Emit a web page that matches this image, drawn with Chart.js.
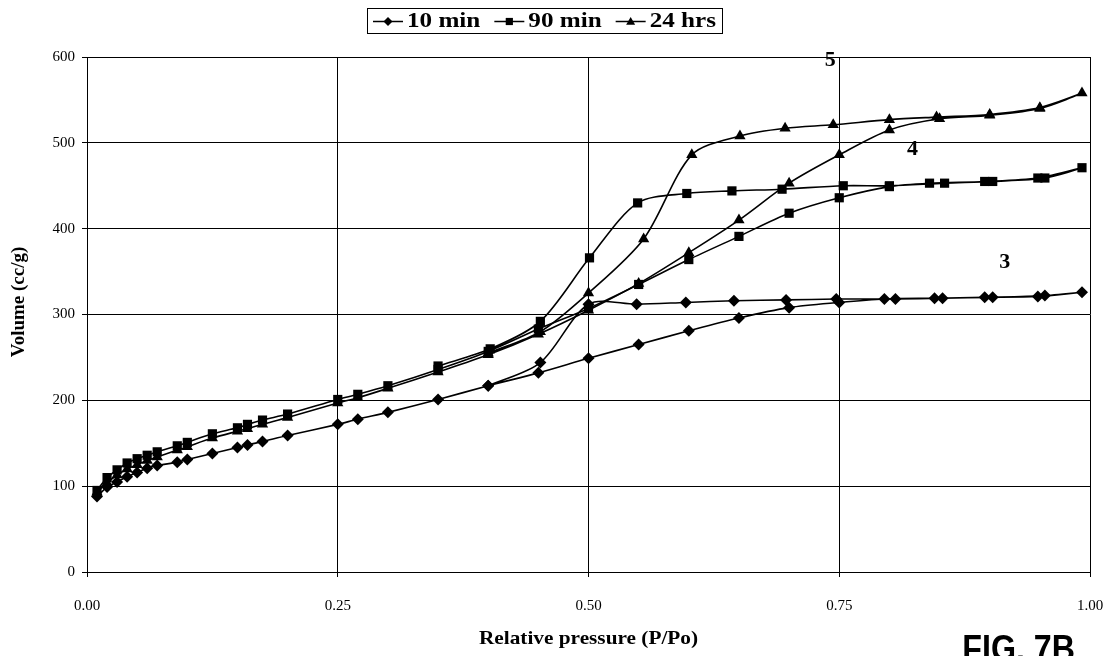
<!DOCTYPE html>
<html>
<head>
<meta charset="utf-8">
<script src="https://cdn.jsdelivr.net/npm/chart.js@4/dist/chart.umd.min.js"></script>
<style>
  html, body { margin: 0; padding: 0; background: #fff; }
  #wrap { width: 1112px; height: 656px; position: relative; }
</style>
</head>
<body>
<div id="wrap"><canvas id="iso"></canvas></div>
<script>
// nitrogen isotherms, adsorption then desorption branch for each sample
const p10Ads = [0.01, 0.02, 0.03, 0.04, 0.05, 0.06, 0.07, 0.09, 0.10, 0.125, 0.15, 0.16, 0.175, 0.20, 0.25, 0.27, 0.30, 0.35, 0.40, 0.45, 0.50, 0.55, 0.60, 0.65, 0.70, 0.75, 0.795, 0.845, 0.895, 0.948, 0.992];
const v10Ads = [88, 99, 105, 111, 116, 121, 124, 128, 131, 138, 145, 148, 152, 159, 172, 178, 186, 201, 217, 232, 249, 265, 281, 296, 308, 314, 318, 319, 320, 321, 326];
const p10Des = [0.955, 0.903, 0.853, 0.806, 0.747, 0.697, 0.645, 0.597, 0.548, 0.50, 0.452, 0.40];
const v10Des = [322, 320, 319, 318, 318, 317, 316, 314, 312, 312, 244, 217];

const p90Ads = [0.01, 0.02, 0.03, 0.04, 0.05, 0.06, 0.07, 0.09, 0.10, 0.125, 0.15, 0.16, 0.175, 0.20, 0.25, 0.27, 0.30, 0.35, 0.40, 0.45, 0.50, 0.55, 0.60, 0.65, 0.70, 0.75, 0.80, 0.84, 0.895, 0.948, 0.992];
const v90Ads = [95, 110, 119, 127, 132, 136, 140, 147, 151, 161, 168, 172, 177, 184, 201, 207, 217, 236, 257, 283, 307, 335, 364, 391, 418, 436, 449, 453, 455, 459, 471];
const p90Des = [0.955, 0.903, 0.855, 0.80, 0.754, 0.693, 0.643, 0.598, 0.549, 0.501, 0.452, 0.402, 0.35];
const v90Des = [459, 455, 453, 450, 450, 446, 444, 441, 430, 366, 292, 260, 240];

const p24Ads = [0.01, 0.02, 0.03, 0.04, 0.05, 0.06, 0.07, 0.09, 0.10, 0.125, 0.15, 0.16, 0.175, 0.20, 0.25, 0.27, 0.30, 0.35, 0.40, 0.45, 0.50, 0.55, 0.60, 0.65, 0.70, 0.75, 0.80, 0.85, 0.90, 0.95, 0.992];
const v24Ads = [93, 104, 113, 120, 125, 130, 134, 142, 146, 156, 164, 167, 172, 180, 197, 203, 214, 233, 253, 277, 305, 336, 372, 410, 453, 486, 515, 528, 532, 540, 558];
const p24Des = [0.95, 0.90, 0.847, 0.80, 0.744, 0.696, 0.651, 0.603, 0.555, 0.50, 0.452, 0.40];
const v24Des = [541, 533, 530, 527, 521, 517, 508, 486, 388, 325, 280, 255];

const seriesNames = ['10 min', '90 min', '24 hrs'];
const markers = ['rectRot', 'rect', 'triangle'];
const markerSizes = [6, 6.5, 6.5];
const curveLabels = ['3', '4', '5'];
const curveLabelPos = [[0.915, 361], [0.823, 492], [0.741, 596]];

const xTicks = [0, 0.25, 0.5, 0.75, 1];
const yTicks = [0, 100, 200, 300, 400, 500, 600];

function pts(px, vy) {
  return px.map((p, i) => ({ x: p, y: vy[i] }));
}

const loops = [
  pts(p10Ads, v10Ads).concat(pts(p10Des, v10Des)),
  pts(p90Ads, v90Ads).concat(pts(p90Des, v90Des)),
  pts(p24Ads, v24Ads).concat(pts(p24Des, v24Des))
];

const serif = '"Liberation Serif", "Times New Roman", serif';

function drawMarker(ctx, style, x, y, r) {
  ctx.beginPath();
  if (style === 'rectRot') {
    ctx.moveTo(x, y - r); ctx.lineTo(x + r, y); ctx.lineTo(x, y + r); ctx.lineTo(x - r, y);
  } else if (style === 'rect') {
    ctx.rect(x - r * 0.8, y - r * 0.8, r * 1.6, r * 1.6);
  } else {
    ctx.moveTo(x, y - r); ctx.lineTo(x + r, y + r * 0.7); ctx.lineTo(x - r, y + r * 0.7);
  }
  ctx.closePath();
  ctx.fill();
}

// text drawn with a horizontal stretch factor
function wideText(ctx, text, x, y, sx) {
  ctx.save();
  ctx.translate(x, y);
  ctx.scale(sx, 1);
  ctx.fillText(text, 0, 0);
  ctx.restore();
}

// titles, boxed legend and curve numbers
const decor = {
  id: 'decor',
  afterDraw(chart) {
    const ctx = chart.ctx;
    const xs = chart.scales.x, ys = chart.scales.y;
    ctx.save();
    ctx.fillStyle = '#000';
    ctx.strokeStyle = '#000';

    // legend box, 367..722
    const lx = 367, ly = 8, lw = 355, lh = 25;
    const seg = 30, gapIn = 4, gapOut = 14, pad = 6;
    ctx.font = 'bold 20px ' + serif;
    ctx.textBaseline = 'middle';
    ctx.textAlign = 'left';
    const widths = seriesNames.map(n => ctx.measureText(n).width);
    const fixed = pad * 2 + seriesNames.length * (seg + gapIn) + (seriesNames.length - 1) * gapOut;
    const sx = (lw - fixed) / widths.reduce((a, b) => a + b, 0);
    ctx.lineWidth = 1;
    ctx.strokeRect(lx + 0.5, ly + 0.5, lw, lh);
    let cx = lx + pad;
    seriesNames.forEach((n, i) => {
      const my = ly + lh / 2 + 1;
      ctx.lineWidth = 1.5;
      ctx.beginPath(); ctx.moveTo(cx, my); ctx.lineTo(cx + seg, my); ctx.stroke();
      drawMarker(ctx, markers[i], cx + seg / 2, my, 4.5);
      wideText(ctx, n, cx + seg + gapIn, my, sx);
      cx += seg + gapIn + widths[i] * sx + gapOut;
    });

    // curve numbers
    ctx.font = 'bold 22px ' + serif;
    ctx.textAlign = 'center';
    curveLabels.forEach((t, i) => {
      ctx.fillText(t, xs.getPixelForValue(curveLabelPos[i][0]), ys.getPixelForValue(curveLabelPos[i][1]));
    });

    // axis titles
    ctx.font = 'bold 19px ' + serif;
    wideText(ctx, 'Relative pressure (P/Po)', (xs.left + xs.right) / 2, 639, 1.12);
    ctx.save();
    ctx.translate(19, 302);
    ctx.rotate(-Math.PI / 2);
    ctx.fillText('Volume (cc/g)', 0, 0);
    ctx.restore();

    // figure tag
    ctx.font = 'bold 37px "Liberation Sans", Arial, sans-serif';
    ctx.textAlign = 'right';
    ctx.textBaseline = 'alphabetic';
    wideText(ctx, 'FIG. 7B', 1075, 661, 0.87);
    ctx.restore();
  }
};

new Chart(document.getElementById('iso'), {
  type: 'scatter',
  data: {
    datasets: loops.map((d, i) => ({
      label: seriesNames[i],
      data: d,
      showLine: true,
      tension: 0.3,
      borderColor: '#000',
      backgroundColor: '#000',
      borderWidth: 1.6,
      pointStyle: markers[i],
      pointRadius: markerSizes[i],
      pointBorderWidth: 0,
      pointHoverRadius: markerSizes[i]
    }))
  },
  options: {
    responsive: true,
    maintainAspectRatio: false,
    animation: false,
    layout: { padding: { left: 0, top: 57, right: 22, bottom: 0 } },
    plugins: {
      legend: { display: false },
      tooltip: { enabled: false }
    },
    scales: {
      x: {
        type: 'linear',
        min: 0,
        max: 1,
        afterBuildTicks(s) { s.ticks = xTicks.map(v => ({ value: v })); },
        afterFit(s) {
          s.height = 84;
          s.paddingLeft = 0;
          s.paddingRight = 0;
        },
        grid: { color: '#000', lineWidth: 1, tickLength: 5 },
        border: { color: '#000', width: 1 },
        ticks: {
          color: '#000',
          padding: 20,
          maxRotation: 0,
          font: { family: serif, size: 15 },
          callback: v => v.toFixed(2)
        }
      },
      y: {
        min: 0,
        max: 600,
        afterBuildTicks(s) { s.ticks = yTicks.map(v => ({ value: v })); },
        afterFit(s) { s.width = 87; },
        grid: { color: '#000', lineWidth: 1, tickLength: 5 },
        border: { color: '#000', width: 1 },
        ticks: {
          color: '#000',
          padding: 7,
          font: { family: serif, size: 15 }
        }
      }
    }
  },
  plugins: [decor]
});
</script>
</body>
</html>
